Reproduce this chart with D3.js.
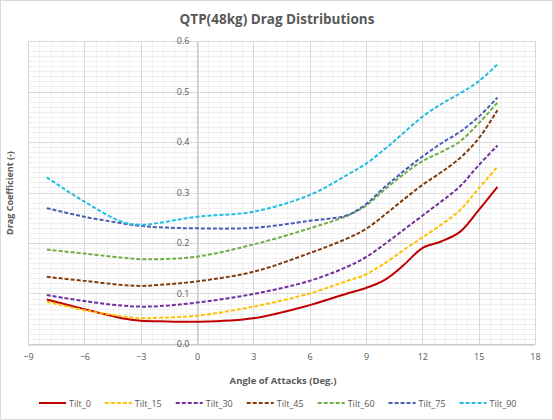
<!DOCTYPE html>
<html><head><meta charset="utf-8">
<script src="https://cdn.jsdelivr.net/npm/d3@7"></script>
<style>body{margin:0;background:#fff}svg{display:block}text{font-family:"Open Sans","Liberation Sans",sans-serif}</style>
</head><body><svg id="c" width="553" height="420"></svg>
<script>
const angles = [-8,-6,-4,-3,-2,0,3,6,8,9,10,11,12,13,14,15,16];
const tilt0  = [0.088,0.069,0.051,0.046,0.045,0.044,0.051,0.077,0.100,0.111,0.127,0.156,0.190,0.203,0.222,0.265,0.311];
const tilt15 = [0.084,0.067,0.055,0.051,0.052,0.056,0.074,0.100,0.125,0.138,0.160,0.186,0.211,0.236,0.265,0.308,0.351];
const tilt30 = [0.097,0.085,0.076,0.074,0.075,0.082,0.099,0.125,0.153,0.172,0.198,0.226,0.254,0.282,0.312,0.354,0.393];
const tilt45 = [0.133,0.125,0.117,0.115,0.117,0.124,0.143,0.180,0.209,0.228,0.256,0.286,0.315,0.340,0.368,0.407,0.463];
const tilt60 = [0.187,0.179,0.171,0.168,0.168,0.173,0.197,0.229,0.254,0.274,0.306,0.336,0.362,0.380,0.401,0.437,0.478];
const tilt75 = [0.269,0.252,0.239,0.234,0.231,0.229,0.230,0.244,0.255,0.277,0.311,0.342,0.371,0.397,0.420,0.450,0.488];
const tilt90 = [0.330,0.282,0.242,0.236,0.240,0.252,0.262,0.295,0.335,0.357,0.386,0.418,0.450,0.475,0.496,0.520,0.554];
const seriesNames = ["Tilt_0","Tilt_15","Tilt_30","Tilt_45","Tilt_60","Tilt_75","Tilt_90"];
const seriesValues = [tilt0,tilt15,tilt30,tilt45,tilt60,tilt75,tilt90];
const xTicks = [-9,-6,-3,0,3,6,9,12,15,18];
const yTicks = [0,0.1,0.2,0.3,0.4,0.5,0.6];
const colors = ["#C00000","#FFC000","#7030A0","#843C0C","#70AD47","#4A5FB4","#22BDE3"];

const svg = d3.select("#c");
svg.append("rect").attr("x",0.5).attr("y",0.5).attr("width",552).attr("height",419)
  .attr("fill","#fff").attr("stroke","#D9D9D9");

const x = d3.scaleLinear().domain([-9,18]).range([28,535]);
const y = d3.scaleLinear().domain([0,0.6]).range([344,41]);

// minor grid
const gMinor = svg.append("g").attr("stroke","#F0F0F0").attr("stroke-width",1);
d3.range(-9,18.001,0.6).forEach(v=>{
  gMinor.append("line").attr("x1",Math.round(x(v))+0.5).attr("x2",Math.round(x(v))+0.5).attr("y1",y(0.6)).attr("y2",y(0));
});
d3.range(0,0.6001,0.01).forEach(v=>{
  gMinor.append("line").attr("y1",Math.round(y(v))+0.5).attr("y2",Math.round(y(v))+0.5).attr("x1",x(-9)).attr("x2",x(18));
});
// major grid
const gMajor = svg.append("g").attr("stroke","#D9D9D9").attr("stroke-width",1);
xTicks.forEach(v=>{
  gMajor.append("line").attr("x1",Math.round(x(v))+0.5).attr("x2",Math.round(x(v))+0.5).attr("y1",y(0.6)).attr("y2",y(0));
});
yTicks.forEach(v=>{
  gMajor.append("line").attr("y1",Math.round(y(v))+0.5).attr("y2",Math.round(y(v))+0.5).attr("x1",x(-9)).attr("x2",x(18));
});

// axes
const xAxis = d3.axisBottom(x).tickValues(xTicks).tickSize(0).tickPadding(9).tickFormat(d3.format("d"));
const gx = svg.append("g").attr("transform",`translate(0,${Math.round(y(0))+0.5})`).call(xAxis);
gx.select(".domain").attr("stroke","#BFBFBF");
gx.selectAll("text").attr("fill","#595959").style("font-size","9px");

const yAxis = d3.axisLeft(y).tickValues(yTicks).tickSize(0).tickPadding(8).tickFormat(d3.format(".1f"));
const gy = svg.append("g").attr("transform",`translate(${Math.round(x(0))+0.5},0)`).call(yAxis);
gy.select(".domain").attr("stroke","#BFBFBF");
gy.selectAll("text").attr("fill","#595959").style("font-size","9px");

// lines
const line = d3.line().x((d,i)=>x(angles[i])).y(d=>y(d)).curve(d3.curveCatmullRom.alpha(0.5));
seriesValues.forEach((vals,k)=>{
  svg.append("path").attr("d",line(vals)).attr("fill","none")
    .attr("stroke",colors[k]).attr("stroke-width",2)
    .attr("stroke-dasharray",k===0?null:"4,2");
});

// titles
svg.append("text").attr("x",277).attr("y",24).attr("text-anchor","middle")
  .attr("fill","#595959").style("font-size","13.5px").style("font-weight","bold")
  .text("QTP(48kg) Drag Distributions");
svg.append("text").attr("x",283).attr("y",384).attr("text-anchor","middle")
  .attr("fill","#595959").style("font-size","9.5px").style("font-weight","bold")
  .text("Angle of Attacks (Deg.)");
svg.append("text").attr("transform","translate(13,193) rotate(-90)").attr("text-anchor","middle")
  .attr("fill","#595959").style("font-size","9px").style("font-weight","bold")
  .text("Drag Coefficient (-)");

// legend
let lx = 39;
const ly = 403;
seriesNames.forEach((n,k)=>{
  svg.append("line").attr("x1",lx).attr("x2",lx+27).attr("y1",ly).attr("y2",ly)
    .attr("stroke",colors[k]).attr("stroke-width",2).attr("stroke-dasharray",k===0?null:"4,2");
  const t = svg.append("text").attr("x",lx+30).attr("y",ly+3.5).attr("fill","#595959")
    .style("font-size","9px").text(n);
  lx += 30 + t.node().getComputedTextLength() + 14;
});
</script></body></html>
